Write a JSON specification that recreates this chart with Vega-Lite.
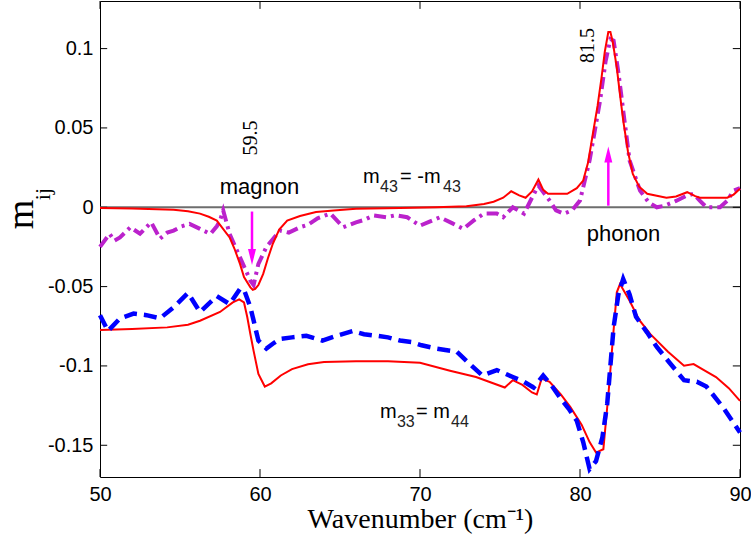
{
  "$schema": "https://vega.github.io/schema/vega-lite/v6.json",
  "width": 640,
  "height": 476,
  "autosize": {"type": "none"},
  "padding": {"left": 100, "top": 1, "right": 11, "bottom": 77},
  "background": "white",
  "config": {
    "view": {"stroke": "black", "strokeWidth": 1},
    "axis": {
      "grid": false,
      "domain": false,
      "ticks": false,
      "labelFont": "Liberation Sans",
      "labelFontSize": 20,
      "labelColor": "black",
      "labelFlush": false,
      "titleColor": "black"
    }
  },
  "datasets": {
    "m43_model": [
      {"x": 50, "y": -0.0004}, {"x": 52, "y": -0.0008}, {"x": 54.6, "y": -0.0015}, {"x": 55.5, "y": -0.0025},
      {"x": 56.25, "y": -0.004}, {"x": 56.8, "y": -0.006}, {"x": 57.3, "y": -0.0084}, {"x": 58.1, "y": -0.019},
      {"x": 58.4, "y": -0.026}, {"x": 58.75, "y": -0.0357}, {"x": 59.0, "y": -0.044}, {"x": 59.4, "y": -0.0505},
      {"x": 59.55, "y": -0.052}, {"x": 59.7, "y": -0.0515}, {"x": 59.9, "y": -0.049}, {"x": 60.2, "y": -0.042},
      {"x": 60.5, "y": -0.032}, {"x": 60.8, "y": -0.023}, {"x": 61.2, "y": -0.014}, {"x": 61.7, "y": -0.0084},
      {"x": 62.5, "y": -0.0055}, {"x": 63.5, "y": -0.003}, {"x": 64.6, "y": -0.002}, {"x": 66, "y": -0.001},
      {"x": 68.75, "y": -0.0005}, {"x": 71, "y": 0.0}, {"x": 72.9, "y": 0.0006}, {"x": 74, "y": 0.002},
      {"x": 74.6, "y": 0.0035}, {"x": 75.2, "y": 0.006}, {"x": 75.7, "y": 0.0101}, {"x": 76.2, "y": 0.0075},
      {"x": 76.6, "y": 0.006}, {"x": 77.0, "y": 0.01}, {"x": 77.4, "y": 0.0175}, {"x": 77.7, "y": 0.011},
      {"x": 78.0, "y": 0.0085}, {"x": 79.2, "y": 0.0085}, {"x": 79.8, "y": 0.012}, {"x": 80.2, "y": 0.0168},
      {"x": 80.5, "y": 0.028}, {"x": 80.8, "y": 0.046}, {"x": 81.1, "y": 0.064}, {"x": 81.35, "y": 0.082},
      {"x": 81.55, "y": 0.098}, {"x": 81.77, "y": 0.1104}, {"x": 81.9, "y": 0.1104}, {"x": 82.05, "y": 0.104},
      {"x": 82.3, "y": 0.088}, {"x": 82.5, "y": 0.071}, {"x": 82.7, "y": 0.0547}, {"x": 83.0, "y": 0.035},
      {"x": 83.3, "y": 0.021}, {"x": 83.7, "y": 0.013}, {"x": 84.2, "y": 0.0085}, {"x": 85.4, "y": 0.006},
      {"x": 86.0, "y": 0.0068}, {"x": 86.7, "y": 0.0095}, {"x": 87.2, "y": 0.007}, {"x": 87.5, "y": 0.006},
      {"x": 89.2, "y": 0.006}, {"x": 89.6, "y": 0.008}, {"x": 90, "y": 0.0116}
    ],
    "m43_data": [
      {"x": 50, "y": -0.025}, {"x": 50.6, "y": -0.0167}, {"x": 50.9, "y": -0.021}, {"x": 51.25, "y": -0.019},
      {"x": 51.9, "y": -0.0126}, {"x": 52.5, "y": -0.0167}, {"x": 53.2, "y": -0.0095}, {"x": 53.75, "y": -0.0198},
      {"x": 54.2, "y": -0.016}, {"x": 54.6, "y": -0.0147}, {"x": 55.1, "y": -0.012}, {"x": 55.6, "y": -0.0105},
      {"x": 56.25, "y": -0.0136}, {"x": 56.9, "y": -0.0168}, {"x": 57.3, "y": -0.012}, {"x": 57.5, "y": -0.0084},
      {"x": 57.7, "y": -0.002}, {"x": 58.1, "y": -0.0168}, {"x": 58.75, "y": -0.0316}, {"x": 59.4, "y": -0.0463},
      {"x": 59.6, "y": -0.049}, {"x": 59.9, "y": -0.0357}, {"x": 60.4, "y": -0.025}, {"x": 61.25, "y": -0.0147},
      {"x": 61.8, "y": -0.016}, {"x": 62.5, "y": -0.0126}, {"x": 63.0, "y": -0.011}, {"x": 63.6, "y": -0.007},
      {"x": 64.4, "y": -0.004}, {"x": 65.2, "y": -0.0126}, {"x": 66, "y": -0.0095}, {"x": 66.5, "y": -0.008},
      {"x": 67.1, "y": -0.0052}, {"x": 67.9, "y": -0.0063}, {"x": 68.5, "y": -0.005}, {"x": 69.2, "y": -0.0063},
      {"x": 70, "y": -0.0116}, {"x": 70.6, "y": -0.009}, {"x": 71.25, "y": -0.0063}, {"x": 72.0, "y": -0.01},
      {"x": 72.7, "y": -0.0136}, {"x": 73.4, "y": -0.008}, {"x": 74, "y": -0.004}, {"x": 74.8, "y": -0.004},
      {"x": 75.2, "y": -0.0063}, {"x": 75.8, "y": 0.0}, {"x": 76.5, "y": -0.004}, {"x": 77.0, "y": 0.006},
      {"x": 77.4, "y": 0.0137}, {"x": 78.1, "y": 0.0042}, {"x": 78.5, "y": -0.002}, {"x": 79.0, "y": -0.004},
      {"x": 79.5, "y": -0.002}, {"x": 80, "y": 0.0042}, {"x": 80.6, "y": 0.0295}, {"x": 81.25, "y": 0.067},
      {"x": 81.6, "y": 0.092}, {"x": 81.9, "y": 0.106}, {"x": 82.1, "y": 0.105}, {"x": 82.4, "y": 0.085},
      {"x": 82.7, "y": 0.061}, {"x": 83.1, "y": 0.0295}, {"x": 83.75, "y": 0.0105}, {"x": 84.3, "y": 0.003},
      {"x": 84.8, "y": 0.0}, {"x": 85.3, "y": 0.001}, {"x": 86, "y": 0.004}, {"x": 86.6, "y": 0.007},
      {"x": 87.1, "y": 0.0085}, {"x": 87.5, "y": 0.004}, {"x": 87.9, "y": 0.0}, {"x": 88.75, "y": 0.0},
      {"x": 89.2, "y": 0.004}, {"x": 89.6, "y": 0.0105}, {"x": 90, "y": 0.012}
    ],
    "m33_model": [
      {"x": 50, "y": -0.0774}, {"x": 52, "y": -0.0768}, {"x": 54.2, "y": -0.0757}, {"x": 55.5, "y": -0.074},
      {"x": 56.25, "y": -0.0715}, {"x": 57.5, "y": -0.066}, {"x": 58.3, "y": -0.06}, {"x": 58.7, "y": -0.058},
      {"x": 59.0, "y": -0.06}, {"x": 59.2, "y": -0.069}, {"x": 59.4, "y": -0.08}, {"x": 59.6, "y": -0.0905},
      {"x": 59.9, "y": -0.105}, {"x": 60.3, "y": -0.113}, {"x": 60.7, "y": -0.111}, {"x": 61.3, "y": -0.106},
      {"x": 62, "y": -0.102}, {"x": 63, "y": -0.099}, {"x": 64, "y": -0.0975}, {"x": 66, "y": -0.097},
      {"x": 68, "y": -0.097}, {"x": 70, "y": -0.098}, {"x": 71.875, "y": -0.103}, {"x": 73.5, "y": -0.107},
      {"x": 75.3, "y": -0.1136}, {"x": 75.8, "y": -0.109}, {"x": 76.4, "y": -0.112}, {"x": 77.0, "y": -0.1167},
      {"x": 77.3, "y": -0.118}, {"x": 77.6, "y": -0.108}, {"x": 78.1, "y": -0.11}, {"x": 78.8, "y": -0.118},
      {"x": 79.4, "y": -0.126}, {"x": 80.1, "y": -0.137}, {"x": 80.6, "y": -0.148}, {"x": 81.0, "y": -0.1546},
      {"x": 81.46, "y": -0.1525}, {"x": 81.8, "y": -0.115}, {"x": 82.08, "y": -0.0799}, {"x": 82.3, "y": -0.0536},
      {"x": 82.5, "y": -0.0484}, {"x": 83.1, "y": -0.0589}, {"x": 83.7, "y": -0.071}, {"x": 84.4, "y": -0.08},
      {"x": 85.5, "y": -0.091}, {"x": 86.5, "y": -0.0999}, {"x": 87.1, "y": -0.0988}, {"x": 87.8, "y": -0.103},
      {"x": 88.5, "y": -0.107}, {"x": 89.3, "y": -0.114}, {"x": 90, "y": -0.122}
    ],
    "m33_data": [
      {"x": 50.0, "y": -0.068}, {"x": 50.5, "y": -0.078}, {"x": 51.25, "y": -0.07}, {"x": 52.1, "y": -0.067},
      {"x": 52.9, "y": -0.068}, {"x": 53.75, "y": -0.07}, {"x": 54.6, "y": -0.063}, {"x": 55.5, "y": -0.054},
      {"x": 56.25, "y": -0.066}, {"x": 57.3, "y": -0.056}, {"x": 58.1, "y": -0.061}, {"x": 58.75, "y": -0.0514},
      {"x": 59.0, "y": -0.052}, {"x": 59.4, "y": -0.063}, {"x": 59.9, "y": -0.084}, {"x": 60.4, "y": -0.089},
      {"x": 60.8, "y": -0.086}, {"x": 61.25, "y": -0.083}, {"x": 62.0, "y": -0.082}, {"x": 62.9, "y": -0.081},
      {"x": 63.9, "y": -0.084}, {"x": 64.8, "y": -0.081}, {"x": 65.8, "y": -0.078}, {"x": 66.5, "y": -0.08},
      {"x": 67.3, "y": -0.081}, {"x": 68.0, "y": -0.082}, {"x": 68.75, "y": -0.084}, {"x": 69.5, "y": -0.085},
      {"x": 70.1, "y": -0.087}, {"x": 71.0, "y": -0.089}, {"x": 71.9, "y": -0.0904}, {"x": 72.3, "y": -0.091},
      {"x": 73.1, "y": -0.0987}, {"x": 73.9, "y": -0.106}, {"x": 74.8, "y": -0.1026}, {"x": 75.8, "y": -0.107},
      {"x": 76.5, "y": -0.11}, {"x": 77.1, "y": -0.1136}, {"x": 77.7, "y": -0.106}, {"x": 78.2, "y": -0.112},
      {"x": 78.75, "y": -0.12}, {"x": 79.3, "y": -0.127}, {"x": 79.8, "y": -0.1346}, {"x": 80.2, "y": -0.148},
      {"x": 80.6, "y": -0.165}, {"x": 81.0, "y": -0.16}, {"x": 81.4, "y": -0.145}, {"x": 81.7, "y": -0.124},
      {"x": 82.1, "y": -0.0757}, {"x": 82.4, "y": -0.055}, {"x": 82.7, "y": -0.0452}, {"x": 83.1, "y": -0.055},
      {"x": 83.5, "y": -0.069}, {"x": 84.2, "y": -0.079}, {"x": 84.8, "y": -0.088}, {"x": 85.6, "y": -0.098},
      {"x": 86.5, "y": -0.109}, {"x": 87.3, "y": -0.11}, {"x": 87.9, "y": -0.113}, {"x": 88.3, "y": -0.118},
      {"x": 89.0, "y": -0.127}, {"x": 90, "y": -0.142}
    ],
    "zero": [{"x": 50, "y": 0}, {"x": 90, "y": 0}],
    "xticks": [{"v": 50}, {"v": 60}, {"v": 70}, {"v": 80}, {"v": 90}],
    "yticks": [{"v": -0.15}, {"v": -0.1}, {"v": -0.05}, {"v": 0}, {"v": 0.05}, {"v": 0.1}],
    "arrows": [
      {"arrow": "magnon", "x": 59.5, "y": -0.0027}, {"arrow": "magnon", "x": 59.5, "y": -0.032},
      {"arrow": "phonon", "x": 81.77, "y": 0.001}, {"arrow": "phonon", "x": 81.77, "y": 0.033}
    ],
    "heads_down": [{"x": 59.5, "y": -0.0313}],
    "heads_up": [{"x": 81.77, "y": 0.0332}],
    "labels": [
      {"x": 59.97, "y": 0.0086, "text": "magnon"},
      {"x": 82.72, "y": -0.021, "text": "phonon"}
    ],
    "mletters": [
      {"x": 66.44, "y": 0.0156, "text": "m"},
      {"x": 68.75, "y": 0.0156, "text": "= -m"},
      {"x": 67.5, "y": -0.1325, "text": "m"},
      {"x": 69.75, "y": -0.1325, "text": "= m"}
    ],
    "subs": [
      {"x": 67.5, "y": 0.0099, "text": "43"},
      {"x": 71.44, "y": 0.0099, "text": "43"},
      {"x": 68.56, "y": -0.1388, "text": "33"},
      {"x": 71.94, "y": -0.1388, "text": "44"}
    ],
    "peaks": [
      {"x": 59.81, "y": 0.0437, "text": "59.5"},
      {"x": 80.875, "y": 0.102, "text": "81.5"}
    ],
    "ylabelsub": [{"x": 46.85, "y": 0.0083, "text": "ij"}]
  },
  "resolve": {"axis": {"x": "independent", "y": "independent"}},
  "layer": [
    {
      "data": {"name": "zero"},
      "mark": {"type": "line", "color": "#6e6e6e", "strokeWidth": 2},
      "encoding": {
        "x": {"field": "x", "type": "quantitative", "scale": {"domain": [50, 90], "nice": false, "zero": false},
          "axis": {"orient": "bottom", "values": [50, 60, 70, 80, 90], "format": "d", "labelPadding": 7,
            "title": "Wavenumber (cm⁻¹)", "titleFont": "Liberation Serif", "titleFontSize": 28, "titleFontWeight": "normal",
            "titleBaseline": "alphabetic", "titleY": 50}},
        "y": {"field": "y", "type": "quantitative", "scale": {"domain": [-0.17, 0.13], "nice": false, "zero": false},
          "axis": {"orient": "left", "values": [-0.15, -0.1, -0.05, 0, 0.05, 0.1], "format": ".2~f", "labelPadding": 7,
            "labelExpr": "replace(datum.label, '−', '-')",
            "title": "m", "titleFont": "Liberation Serif", "titleFontSize": 38, "titleFontWeight": "normal",
            "titleAngle": 270, "titleBaseline": "alphabetic", "titleAlign": "center", "titleX": -68, "titleY": 213}}
      }
    },
    {
      "data": {"name": "xticks"},
      "mark": {"type": "rule", "color": "black", "strokeWidth": 1},
      "encoding": {
        "x": {"field": "v", "type": "quantitative", "scale": {"domain": [50, 90], "nice": false, "zero": false}, "axis": null},
        "y": {"datum": -0.17, "type": "quantitative", "scale": {"domain": [-0.17, 0.13], "nice": false, "zero": false}, "axis": null},
        "y2": {"datum": -0.165}
      }
    },
    {
      "data": {"name": "xticks"},
      "mark": {"type": "rule", "color": "black", "strokeWidth": 1},
      "encoding": {
        "x": {"field": "v", "type": "quantitative", "axis": null},
        "y": {"datum": 0.13, "type": "quantitative", "axis": null},
        "y2": {"datum": 0.125}
      }
    },
    {
      "data": {"name": "yticks"},
      "mark": {"type": "rule", "color": "black", "strokeWidth": 1},
      "encoding": {
        "y": {"field": "v", "type": "quantitative", "axis": null},
        "x": {"datum": 50, "type": "quantitative", "axis": null},
        "x2": {"datum": 50.45}
      }
    },
    {
      "data": {"name": "yticks"},
      "mark": {"type": "rule", "color": "black", "strokeWidth": 1},
      "encoding": {
        "y": {"field": "v", "type": "quantitative", "axis": null},
        "x": {"datum": 90, "type": "quantitative", "axis": null},
        "x2": {"datum": 89.55}
      }
    },
    {
      "data": {"name": "m43_data"},
      "mark": {"type": "line", "color": "#bb22cc", "strokeWidth": 4, "strokeDash": [12, 5, 3, 5]},
      "encoding": {
        "x": {"field": "x", "type": "quantitative", "scale": {"domain": [50, 90], "nice": false, "zero": false}, "axis": null},
        "y": {"field": "y", "type": "quantitative", "scale": {"domain": [-0.17, 0.13], "nice": false, "zero": false}, "axis": null}
      }
    },
    {
      "data": {"name": "m43_model"},
      "mark": {"type": "line", "color": "#ff0000", "strokeWidth": 2},
      "encoding": {
        "x": {"field": "x", "type": "quantitative", "scale": {"domain": [50, 90], "nice": false, "zero": false}, "axis": null},
        "y": {"field": "y", "type": "quantitative", "scale": {"domain": [-0.17, 0.13], "nice": false, "zero": false}, "axis": null}
      }
    },
    {
      "data": {"name": "m33_model"},
      "mark": {"type": "line", "color": "#ff0000", "strokeWidth": 2},
      "encoding": {
        "x": {"field": "x", "type": "quantitative", "scale": {"domain": [50, 90], "nice": false, "zero": false}, "axis": null},
        "y": {"field": "y", "type": "quantitative", "scale": {"domain": [-0.17, 0.13], "nice": false, "zero": false}, "axis": null}
      }
    },
    {
      "data": {"name": "m33_data"},
      "mark": {"type": "line", "color": "#0000ff", "strokeWidth": 4.5, "strokeDash": [13, 7]},
      "encoding": {
        "x": {"field": "x", "type": "quantitative", "scale": {"domain": [50, 90], "nice": false, "zero": false}, "axis": null},
        "y": {"field": "y", "type": "quantitative", "scale": {"domain": [-0.17, 0.13], "nice": false, "zero": false}, "axis": null}
      }
    },
    {
      "data": {"name": "arrows"},
      "mark": {"type": "line", "color": "#ff00ff", "strokeWidth": 2.5},
      "encoding": {
        "x": {"field": "x", "type": "quantitative", "axis": null},
        "y": {"field": "y", "type": "quantitative", "axis": null},
        "detail": {"field": "arrow"}
      }
    },
    {
      "data": {"name": "heads_down"},
      "mark": {"type": "point", "shape": "M-0.5,-1L0.5,-1L0,1Z", "size": 256, "filled": true, "color": "#ff00ff", "opacity": 1},
      "encoding": {
        "x": {"field": "x", "type": "quantitative", "axis": null},
        "y": {"field": "y", "type": "quantitative", "axis": null}
      }
    },
    {
      "data": {"name": "heads_up"},
      "mark": {"type": "point", "shape": "M-0.5,1L0.5,1L0,-1Z", "size": 256, "filled": true, "color": "#ff00ff", "opacity": 1},
      "encoding": {
        "x": {"field": "x", "type": "quantitative", "axis": null},
        "y": {"field": "y", "type": "quantitative", "axis": null}
      }
    },
    {
      "data": {"name": "labels"},
      "mark": {"type": "text", "font": "Liberation Sans", "fontSize": 22, "align": "center", "baseline": "alphabetic", "color": "black"},
      "encoding": {
        "x": {"field": "x", "type": "quantitative", "axis": null},
        "y": {"field": "y", "type": "quantitative", "axis": null},
        "text": {"field": "text"}
      }
    },
    {
      "data": {"name": "mletters"},
      "mark": {"type": "text", "font": "Liberation Sans", "fontSize": 20, "align": "left", "baseline": "alphabetic", "color": "black"},
      "encoding": {
        "x": {"field": "x", "type": "quantitative", "axis": null},
        "y": {"field": "y", "type": "quantitative", "axis": null},
        "text": {"field": "text"}
      }
    },
    {
      "data": {"name": "subs"},
      "mark": {"type": "text", "font": "Liberation Sans", "fontSize": 16, "align": "left", "baseline": "alphabetic", "color": "#222222"},
      "encoding": {
        "x": {"field": "x", "type": "quantitative", "axis": null},
        "y": {"field": "y", "type": "quantitative", "axis": null},
        "text": {"field": "text"}
      }
    },
    {
      "data": {"name": "peaks"},
      "mark": {"type": "text", "font": "Liberation Serif", "fontSize": 20, "angle": 270, "align": "center", "baseline": "alphabetic", "color": "black"},
      "encoding": {
        "x": {"field": "x", "type": "quantitative", "axis": null},
        "y": {"field": "y", "type": "quantitative", "axis": null},
        "text": {"field": "text"}
      }
    },
    {
      "data": {"name": "ylabelsub"},
      "mark": {"type": "text", "font": "Liberation Serif", "fontSize": 22, "angle": 270, "align": "center", "baseline": "alphabetic", "color": "black"},
      "encoding": {
        "x": {"field": "x", "type": "quantitative", "axis": null},
        "y": {"field": "y", "type": "quantitative", "axis": null},
        "text": {"field": "text"}
      }
    }
  ]
}
